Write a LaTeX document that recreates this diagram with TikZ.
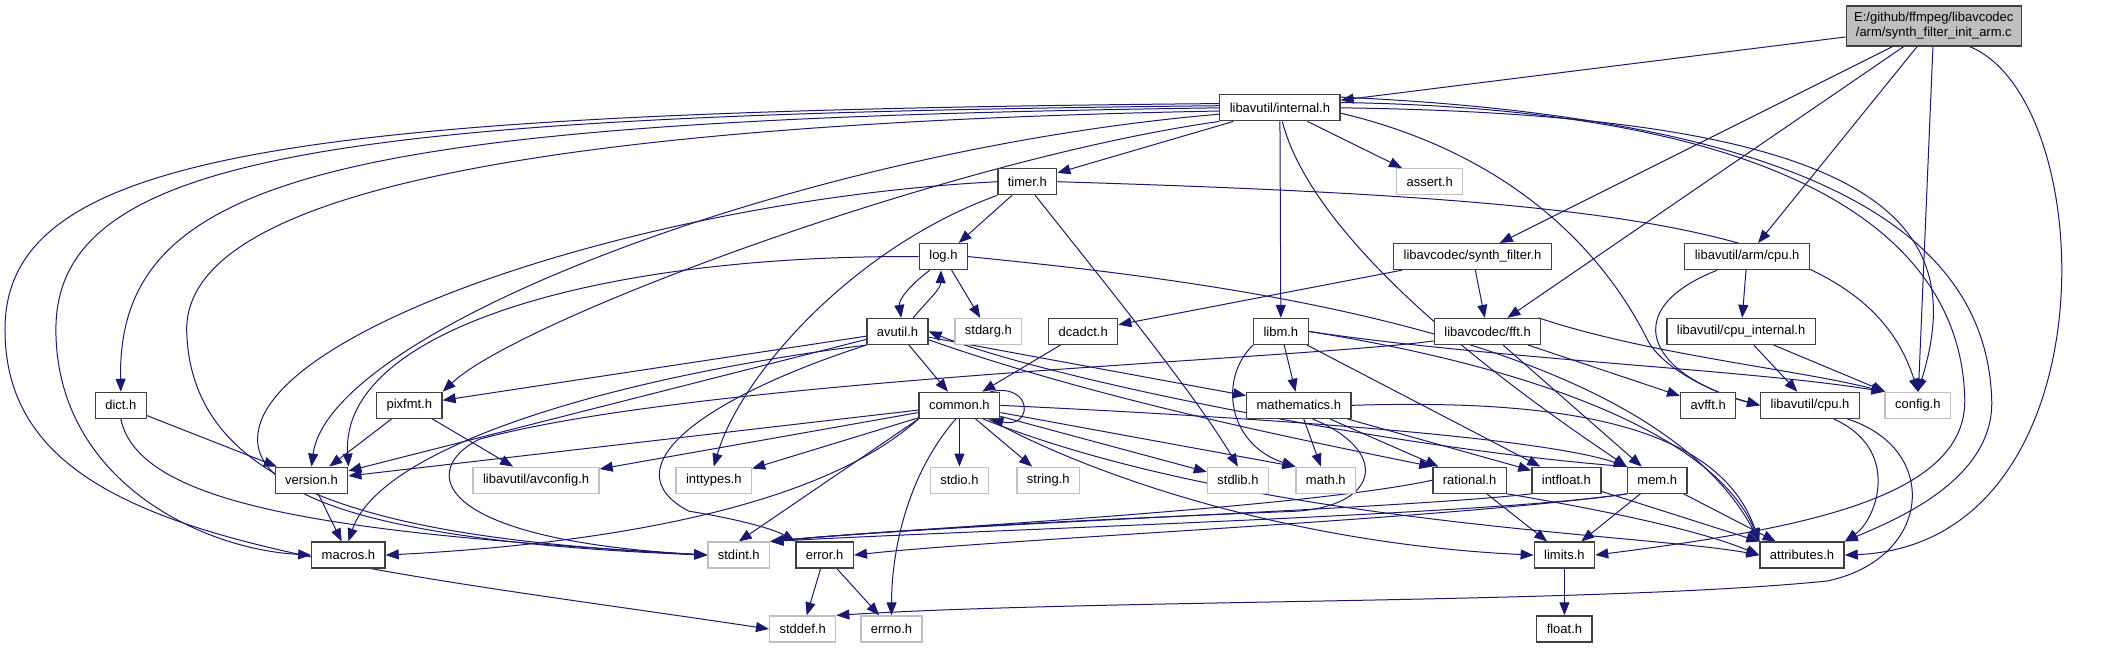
\documentclass[tikz,border=0pt]{standalone}
\usepackage{fontspec}
\setmainfont{Liberation Sans}
\usetikzlibrary{arrows.meta,backgrounds}
\definecolor{EdgeBlue}{HTML}{191970}
\definecolor{Frame}{HTML}{404040}
\definecolor{SysGray}{HTML}{BFBFBF}
\definecolor{RootGray}{HTML}{BFBFBF}

\begin{document}
\begin{tikzpicture}[x=1pt,y=-1pt,font=\fontsize{13}{15}\selectfont,hdr/.style={draw=Frame,line width=1.3pt,fill=white,minimum height=26pt,inner xsep=10pt,inner ysep=0pt},sys/.style={hdr,draw=SysGray},rootbox/.style={hdr,fill=RootGray,align=center,minimum height=40pt,inner xsep=8pt},dep/.style={draw=EdgeBlue,line width=1pt,-{Triangle[length=13pt,width=10pt]}}]
\def\ya{26}\def\yb{108}\def\yc{182}\def\yd{257}\def\ye{332}\def\yf{406}\def\yg{481}\def\yh{556}\def\yi{630}
\node[rootbox] (root) at (1937,\ya) {E:/github/ffmpeg/libavcodec\\/arm/synth\_filter\_init\_arm.c};
\node[hdr] (internal) at (1282,\yb) {libavutil/internal.h};
\node[hdr] (timer) at (1029,\yc) {timer.h};\node[sys] (assert) at (1432,\yc) {assert.h};
\node[hdr] (log) at (945,\yd) {log.h};\node[hdr] (synth) at (1475,\yd) {libavcodec/synth\_filter.h};\node[hdr] (armcpu) at (1750,\yd) {libavutil/arm/cpu.h};
\node[hdr] (avutil) at (899,\ye) {avutil.h};\node[sys] (stdarg) at (990,\ye) {stdarg.h};\node[hdr] (dcadct) at (1085,\ye) {dcadct.h};\node[hdr] (libm) at (1283,\ye) {libm.h};\node[hdr] (fft) at (1490,\ye) {libavcodec/fft.h};\node[hdr] (cpuint) at (1744,\ye) {libavutil/cpu\_internal.h};
\node[hdr] (dict) at (121,\yf) {dict.h};\node[hdr] (pixfmt) at (410,\yf) {pixfmt.h};\node[hdr] (common) at (961,\yf) {common.h};\node[hdr] (mathematics) at (1301,\yf) {mathematics.h};\node[hdr] (avfft) at (1711,\yf) {avfft.h};\node[hdr] (cpu) at (1813,\yf) {libavutil/cpu.h};\node[sys] (config) at (1921,\yf) {config.h};
\node[hdr] (version) at (312,\yg) {version.h};\node[sys] (avconfig) at (537,\yg) {libavutil/avconfig.h};\node[sys] (inttypes) at (715,\yg) {inttypes.h};\node[sys] (stdio) at (961,\yg) {stdio.h};\node[sys] (string) at (1050,\yg) {string.h};\node[sys] (stdlib) at (1240,\yg) {stdlib.h};\node[sys] (math) at (1328,\yg) {math.h};\node[hdr] (rational) at (1472,\yg) {rational.h};\node[hdr] (intfloat) at (1569,\yg) {intfloat.h};\node[hdr] (mem) at (1660,\yg) {mem.h};
\node[hdr] (macros) at (349,\yh) {macros.h};\node[sys] (stdint) at (740,\yh) {stdint.h};\node[hdr] (error) at (826,\yh) {error.h};\node[hdr] (limits) at (1567,\yh) {limits.h};\node[hdr] (attributes) at (1805,\yh) {attributes.h};
\node[sys] (stddef) at (804,\yi) {stddef.h};\node[sys] (errno) at (893,\yi) {errno.h};\node[hdr] (float) at (1567,\yi) {float.h};
\begin{scope}[on background layer]
\fill[white] (0,0) rectangle (2115,649);
\draw[dep] (root) -- (internal);\draw[dep] (root) -- (synth);\draw[dep] (root) -- (fft);\draw[dep] (root) -- (armcpu);\draw[dep] (root) -- (config);\draw[dep] (root.-30) .. controls (2105,100) and (2118,545) .. (attributes.east);
\draw[dep] (internal) -- (timer);\draw[dep] (internal) -- (assert);\draw[dep] (internal) -- (libm);\draw[dep] (internal.-80) .. controls (1320,260) and (1560,420) .. (mem.north west);
\draw[dep] (internal.east) .. controls (1880,115) and (1975,220) .. (config.north);\draw[dep] (internal.10) .. controls (1850,120) and (1990,250) .. (1995,400) .. controls (1998,480) and (1900,520) .. (attributes.north east);
\draw[dep] (internal.5) .. controls (1820,110) and (1965,250) .. (1968,400) .. controls (1970,500) and (1800,530) .. (limits.east);\draw[dep] (internal.-5) .. controls (1540,160) and (1620,280) .. (1650,340) .. controls (1665,370) and (1720,395) .. (cpu.west);
\draw[dep] (internal.176) .. controls (300,112) and (5,150) .. (5,330) .. controls (5,540) and (300,560) .. (stddef.west);\draw[dep] (internal.178) .. controls (350,115) and (56,150) .. (56,330) .. controls (56,480) and (200,550) .. (macros.west);
\draw[dep] (internal.180) .. controls (350,120) and (117,170) .. (dict.north);\draw[dep] (internal.183) .. controls (500,125) and (187,200) .. (187,330) .. controls (190,500) and (400,540) .. (stdint.west);
\draw[dep] (internal.186) .. controls (800,150) and (330,330) .. (version.north);\draw[dep] (internal.south west) .. controls (950,160) and (520,320) .. (pixfmt.north east);
\draw[dep] (timer) -- (log);\draw[dep] (timer.-60) .. controls (1120,300) and (1200,400) .. (stdlib.north);\draw[dep] (timer.south west) .. controls (850,250) and (740,380) .. (inttypes.north);
\draw[dep] (timer.east) .. controls (1650,200) and (1870,230) .. (config.north);\draw[dep] (timer.west) .. controls (650,200) and (258,330) .. (258,440) .. controls (258,530) and (550,550) .. (stdint.west);
\draw[dep] (log.-135) .. controls (912,285) and (900,300) .. (avutil.75);\draw[dep] (log) -- (stdarg);\draw[dep] (log.west) .. controls (600,255) and (340,330) .. (version.north east);\draw[dep] (log.east) .. controls (1200,280) and (1650,330) .. (attributes.north west);
\draw[dep] (avutil.41) .. controls (930,300) and (942,290) .. (log.-100);\draw[dep] (avutil) -- (common);\draw[dep] (avutil.south west) .. controls (700,400) and (610,470) .. (690,512) .. controls (740,520) and (775,530) .. (error.north west);
\draw[dep] (avutil.-15) .. controls (1100,400) and (1300,440) .. (rational.north west);\draw[dep] (avutil) -- (mathematics);\draw[dep] (avutil) -- (version);\draw[dep] (avutil) -- (pixfmt);\draw[dep] (avutil.south west) .. controls (600,380) and (380,450) .. (macros.north);
\draw[dep] (dcadct) -- (common);
\draw[dep] (libm) -- (mathematics);\draw[dep] (libm.south west) .. controls (1220,380) and (1230,445) .. (math.north west);\draw[dep] (libm) -- (intfloat);\draw[dep] (libm.east) .. controls (1550,370) and (1720,440) .. (attributes.north west);\draw[dep] (libm.east) .. controls (1500,360) and (1750,370) .. (config.north west);
\draw[dep] (mathematics) -- (math);\draw[dep] (mathematics) -- (rational);\draw[dep] (mathematics) -- (intfloat);\draw[dep] (mathematics.east) .. controls (1550,400) and (1720,420) .. (attributes.north west);
\draw[dep] (mathematics.-45) .. controls (1390,450) and (1385,505) .. (1300,512) .. controls (1100,520) and (900,530) .. (stdint.north east);
\draw[dep] (rational.west) .. controls (1300,510) and (900,530) .. (stdint.north east);\draw[dep] (rational) -- (limits);\draw[dep] (rational.-20) .. controls (1600,510) and (1700,530) .. (attributes.west);
\draw[dep] (intfloat.south west) .. controls (1400,510) and (950,525) .. (stdint.north east);\draw[dep] (intfloat) -- (attributes);
\draw[dep] (mem) -- (limits);\draw[dep] (mem) -- (attributes);\draw[dep] (mem.south west) .. controls (1500,515) and (1000,530) .. (stdint.north east);\draw[dep] (mem.south west) .. controls (1450,520) and (1000,540) .. (error.east);\draw[dep] (mem.north west) .. controls (1400,450) and (1050,380) .. (avutil.east);
\draw[dep] (error) -- (stddef);\draw[dep] (error) -- (errno);
\draw[dep] ([xshift=-10pt]common.north east) .. controls (1035,383) and (1035,430) .. ([xshift=-10pt]common.south east);
\draw[dep] (common) -- (stdio);\draw[dep] (common) -- (string);\draw[dep] (common) -- (stdlib);\draw[dep] (common.-10) -- (math.north west);\draw[dep] (common) -- (inttypes);\draw[dep] (common.south west) -- (stdint.north);
\draw[dep] (common.-105) .. controls (905,480) and (893,560) .. (errno.north);\draw[dep] (common) -- (avconfig);\draw[dep] (common) -- (version);\draw[dep] (common.south west) .. controls (820,510) and (600,545) .. (macros.east);
\draw[dep] (common.-25) .. controls (1100,480) and (1300,545) .. (limits.west);\draw[dep] (common.-30) .. controls (1250,525) and (1650,535) .. (attributes.west);\draw[dep] (common.east) .. controls (1300,420) and (1550,440) .. (mem.north west);
\draw[dep] (dict) -- (version);\draw[dep] (dict.south) .. controls (140,510) and (350,535) .. (stdint.west);
\draw[dep] (pixfmt) -- (version);\draw[dep] (pixfmt) -- (avconfig);\draw[dep] (version) -- (macros);
\draw[dep] (synth) -- (fft);\draw[dep] (synth) -- (dcadct);
\draw[dep] (fft) -- (avfft);\draw[dep] (fft.15) .. controls (1650,355) and (1800,370) .. (config.north west);\draw[dep] (fft) -- (mem);\draw[dep] (fft.-170) .. controls (1300,360) and (700,380) .. (480,440) .. controls (420,470) and (430,540) .. (stdint.west);
\draw[dep] (armcpu) -- (cpuint);\draw[dep] ([xshift=-30pt]armcpu.south) .. controls (1620,310) and (1650,375) .. (cpu.west);
\draw[dep] (cpuint) -- (cpu);\draw[dep] (cpuint) -- (config);
\draw[dep] (cpu.-30) .. controls (1905,450) and (1880,520) .. (attributes.north east);\draw[dep] (cpu.-20) .. controls (1945,450) and (1935,560) .. (1830,582) .. controls (1600,605) and (1100,600) .. (stddef.north east);
\draw[dep] (limits) -- (float);
\end{scope}
\useasboundingbox (0,0) rectangle (2115,649);
\end{tikzpicture}
\end{document}
